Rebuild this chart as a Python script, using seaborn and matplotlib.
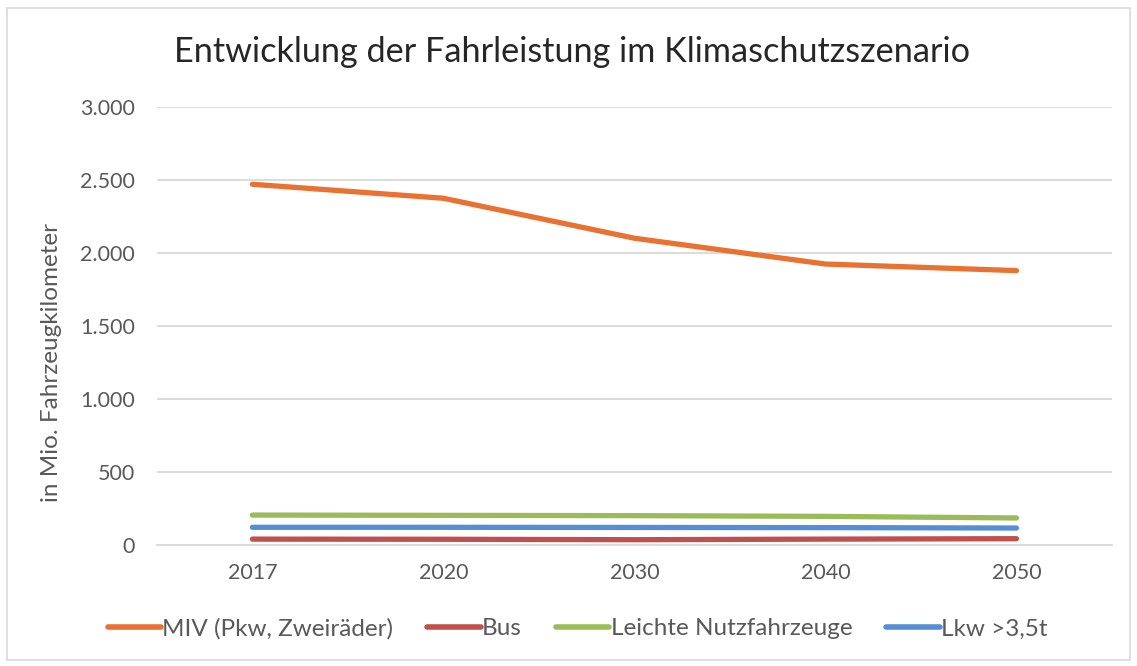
import pandas as pd
import seaborn as sns
import matplotlib.pyplot as plt
from matplotlib.ticker import FuncFormatter, MultipleLocator
from matplotlib.patches import Rectangle

# Data
years = ["2017", "2020", "2030", "2040", "2050"]
miv = [2470, 2374, 2100, 1923, 1878]
bus = [37, 36, 33, 37, 40]
lnf = [202, 200, 198, 193, 182]
lkw = [118, 118, 117, 116, 113]

series_names = ["MIV (Pkw, Zweiräder)", "Bus", "Leichte Nutzfahrzeuge", "Lkw >3,5t"]
colors = ["#E97131", "#C0504D", "#9BBB59", "#558ED5"]

df = pd.DataFrame({
    "Jahr": years * 4,
    "Wert": miv + bus + lnf + lkw,
    "Serie": [s for s in series_names for _ in years],
})

sns.set_style("white")
plt.rcParams["font.family"] = ["Lato", "DejaVu Sans"]

fig = plt.figure(figsize=(11.37, 6.66), dpi=100)
ax = fig.add_axes([0.138, 0.1824, 0.840, 0.657])

sns.lineplot(data=df, x="Jahr", y="Wert", hue="Serie", hue_order=series_names,
             palette=colors, linewidth=3.8, ax=ax, sort=False,
             solid_capstyle="round", legend=True)

grey = "#595959"
ax.set_ylim(0, 3000)
ax.set_xlim(-0.5, 4.5)
ax.yaxis.set_major_locator(MultipleLocator(500))
ax.yaxis.set_major_formatter(FuncFormatter(lambda v, p: f"{v:,.0f}".replace(",", ".")))
ax.grid(axis="y", color="#D9D9D9", linewidth=1.3)
ax.set_axisbelow(True)
for side in ["top", "right", "left"]:
    ax.spines[side].set_visible(False)
ax.spines["bottom"].set_color("#D9D9D9")
ax.spines["bottom"].set_linewidth(1.3)
ax.tick_params(axis="both", length=0, labelsize=15.5, labelcolor=grey)
ax.tick_params(axis="y", pad=16)
ax.tick_params(axis="x", pad=13)
ax.set_xlabel("")
ax.set_ylabel("in Mio. Fahrzeugkilometer", fontsize=17.5, color=grey)
ax.yaxis.set_label_coords(-0.0995, 0.415)

fig.text(0.503, 0.922, "Entwicklung der Fahrleistung im Klimaschutzszenario",
         ha="center", va="center", fontsize=24.7, color="#262626")

handles, labels = ax.get_legend_handles_labels()
ax.get_legend().remove()
leg = fig.legend(handles, labels, loc="center", bbox_to_anchor=(0.508, 0.056), ncol=4,
                 frameon=False, fontsize=17.5, handlelength=2.2, handletextpad=0.05,
                 columnspacing=1.4)
for line in leg.get_lines():
    line.set_linewidth(4)
    line.set_solid_capstyle("round")
for t in leg.get_texts():
    t.set_color(grey)

fig.patches.append(Rectangle((0.006, 0.009), 0.988, 0.979, transform=fig.transFigure,
                             fill=False, edgecolor="#D9D9D9", linewidth=1.2))

fig.savefig("out.png", dpi=100)
